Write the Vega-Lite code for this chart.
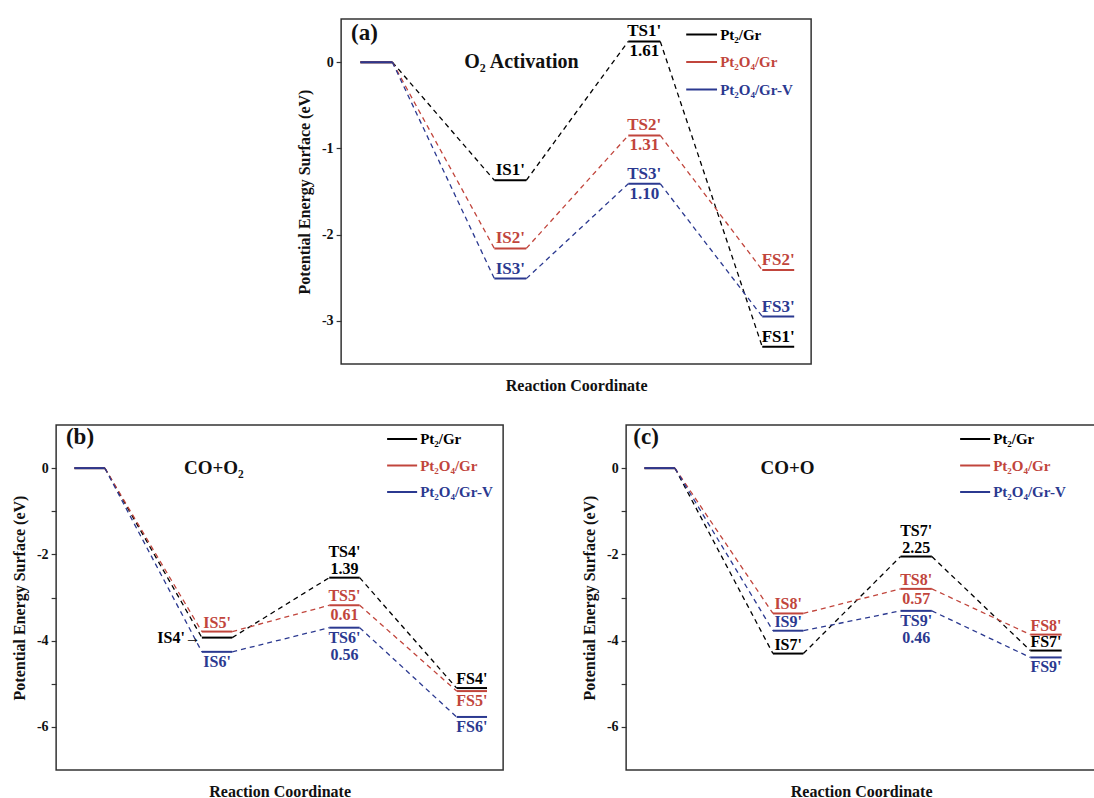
{
 "$schema": "https://vega.github.io/schema/vega-lite/v6.json",
 "padding": {"left": 10, "top": 17, "right": 0, "bottom": 0},
 "background": "white",
 "datasets": {
  "levels": [
   {"panel":"a","series":"Pt₂/Gr","step":0,"xs":0.41,"xe":1.09,"e":0},
   {"panel":"a","series":"Pt₂/Gr","step":1,"xs":3.26,"xe":3.94,"e":-1.37},
   {"panel":"a","series":"Pt₂/Gr","step":2,"xs":6.11,"xe":6.79,"e":0.24},
   {"panel":"a","series":"Pt₂/Gr","step":3,"xs":8.96,"xe":9.64,"e":-3.30},
   {"panel":"a","series":"Pt₂O₄/Gr","step":0,"xs":0.41,"xe":1.09,"e":0},
   {"panel":"a","series":"Pt₂O₄/Gr","step":1,"xs":3.26,"xe":3.94,"e":-2.16},
   {"panel":"a","series":"Pt₂O₄/Gr","step":2,"xs":6.11,"xe":6.79,"e":-0.85},
   {"panel":"a","series":"Pt₂O₄/Gr","step":3,"xs":8.96,"xe":9.64,"e":-2.41},
   {"panel":"a","series":"Pt₂O₄/Gr-V","step":0,"xs":0.41,"xe":1.09,"e":0},
   {"panel":"a","series":"Pt₂O₄/Gr-V","step":1,"xs":3.26,"xe":3.94,"e":-2.51},
   {"panel":"a","series":"Pt₂O₄/Gr-V","step":2,"xs":6.11,"xe":6.79,"e":-1.41},
   {"panel":"a","series":"Pt₂O₄/Gr-V","step":3,"xs":8.96,"xe":9.64,"e":-2.95},
   {"panel":"b","series":"Pt₂/Gr","step":0,"xs":0.41,"xe":1.09,"e":0},
   {"panel":"b","series":"Pt₂/Gr","step":1,"xs":3.26,"xe":3.94,"e":-3.93},
   {"panel":"b","series":"Pt₂/Gr","step":2,"xs":6.11,"xe":6.79,"e":-2.54},
   {"panel":"b","series":"Pt₂/Gr","step":3,"xs":8.96,"xe":9.64,"e":-5.10},
   {"panel":"b","series":"Pt₂O₄/Gr","step":0,"xs":0.41,"xe":1.09,"e":0},
   {"panel":"b","series":"Pt₂O₄/Gr","step":1,"xs":3.26,"xe":3.94,"e":-3.79},
   {"panel":"b","series":"Pt₂O₄/Gr","step":2,"xs":6.11,"xe":6.79,"e":-3.18},
   {"panel":"b","series":"Pt₂O₄/Gr","step":3,"xs":8.96,"xe":9.64,"e":-5.17},
   {"panel":"b","series":"Pt₂O₄/Gr-V","step":0,"xs":0.41,"xe":1.09,"e":0},
   {"panel":"b","series":"Pt₂O₄/Gr-V","step":1,"xs":3.26,"xe":3.94,"e":-4.26},
   {"panel":"b","series":"Pt₂O₄/Gr-V","step":2,"xs":6.11,"xe":6.79,"e":-3.70},
   {"panel":"b","series":"Pt₂O₄/Gr-V","step":3,"xs":8.96,"xe":9.64,"e":-5.77},
   {"panel":"c","series":"Pt₂/Gr","step":0,"xs":0.41,"xe":1.09,"e":0},
   {"panel":"c","series":"Pt₂/Gr","step":1,"xs":3.28,"xe":3.96,"e":-4.30},
   {"panel":"c","series":"Pt₂/Gr","step":2,"xs":6.13,"xe":6.83,"e":-2.05},
   {"panel":"c","series":"Pt₂/Gr","step":3,"xs":9.03,"xe":9.73,"e":-4.23},
   {"panel":"c","series":"Pt₂O₄/Gr","step":0,"xs":0.41,"xe":1.09,"e":0},
   {"panel":"c","series":"Pt₂O₄/Gr","step":1,"xs":3.28,"xe":3.96,"e":-3.37},
   {"panel":"c","series":"Pt₂O₄/Gr","step":2,"xs":6.13,"xe":6.83,"e":-2.80},
   {"panel":"c","series":"Pt₂O₄/Gr","step":3,"xs":9.03,"xe":9.73,"e":-3.86},
   {"panel":"c","series":"Pt₂O₄/Gr-V","step":0,"xs":0.41,"xe":1.09,"e":0},
   {"panel":"c","series":"Pt₂O₄/Gr-V","step":1,"xs":3.28,"xe":3.96,"e":-3.77},
   {"panel":"c","series":"Pt₂O₄/Gr-V","step":2,"xs":6.13,"xe":6.83,"e":-3.31},
   {"panel":"c","series":"Pt₂O₄/Gr-V","step":3,"xs":9.03,"xe":9.73,"e":-4.39}
  ],
  "labels": [
   {"panel":"a","series":"Pt₂/Gr","x":3.6,"e":-1.37,"text":"IS1'","pos":"above"},
   {"panel":"a","series":"Pt₂O₄/Gr","x":3.6,"e":-2.16,"text":"IS2'","pos":"above"},
   {"panel":"a","series":"Pt₂O₄/Gr-V","x":3.6,"e":-2.51,"text":"IS3'","pos":"above"},
   {"panel":"a","series":"Pt₂/Gr","x":6.45,"e":0.24,"text":"TS1'","pos":"above"},
   {"panel":"a","series":"Pt₂/Gr","x":6.45,"e":0.24,"text":"1.61","pos":"below"},
   {"panel":"a","series":"Pt₂O₄/Gr","x":6.45,"e":-0.85,"text":"TS2'","pos":"above"},
   {"panel":"a","series":"Pt₂O₄/Gr","x":6.45,"e":-0.85,"text":"1.31","pos":"below"},
   {"panel":"a","series":"Pt₂O₄/Gr-V","x":6.45,"e":-1.41,"text":"TS3'","pos":"above"},
   {"panel":"a","series":"Pt₂O₄/Gr-V","x":6.45,"e":-1.41,"text":"1.10","pos":"below"},
   {"panel":"a","series":"Pt₂/Gr","x":9.3,"e":-3.30,"text":"FS1'","pos":"above"},
   {"panel":"a","series":"Pt₂O₄/Gr","x":9.3,"e":-2.41,"text":"FS2'","pos":"above"},
   {"panel":"a","series":"Pt₂O₄/Gr-V","x":9.3,"e":-2.95,"text":"FS3'","pos":"above"},
   {"panel":"b","series":"Pt₂O₄/Gr","x":3.6,"e":-3.79,"text":"IS5'","pos":"above"},
   {"panel":"b","series":"Pt₂/Gr","x":3.26,"e":-3.93,"text":"IS4'→","pos":"left"},
   {"panel":"b","series":"Pt₂O₄/Gr-V","x":3.6,"e":-4.26,"text":"IS6'","pos":"below"},
   {"panel":"b","series":"Pt₂/Gr","x":6.45,"e":-2.54,"text":"TS4'","pos":"above2"},
   {"panel":"b","series":"Pt₂/Gr","x":6.45,"e":-2.54,"text":"1.39","pos":"above"},
   {"panel":"b","series":"Pt₂O₄/Gr","x":6.45,"e":-3.18,"text":"TS5'","pos":"above"},
   {"panel":"b","series":"Pt₂O₄/Gr","x":6.45,"e":-3.18,"text":"0.61","pos":"below"},
   {"panel":"b","series":"Pt₂O₄/Gr-V","x":6.45,"e":-3.70,"text":"TS6'","pos":"below"},
   {"panel":"b","series":"Pt₂O₄/Gr-V","x":6.45,"e":-3.70,"text":"0.56","pos":"below2"},
   {"panel":"b","series":"Pt₂/Gr","x":9.3,"e":-5.10,"text":"FS4'","pos":"above"},
   {"panel":"b","series":"Pt₂O₄/Gr","x":9.3,"e":-5.17,"text":"FS5'","pos":"below"},
   {"panel":"b","series":"Pt₂O₄/Gr-V","x":9.3,"e":-5.77,"text":"FS6'","pos":"below"},
   {"panel":"c","series":"Pt₂O₄/Gr","x":3.62,"e":-3.37,"text":"IS8'","pos":"above"},
   {"panel":"c","series":"Pt₂O₄/Gr-V","x":3.62,"e":-3.77,"text":"IS9'","pos":"above"},
   {"panel":"c","series":"Pt₂/Gr","x":3.62,"e":-4.30,"text":"IS7'","pos":"above"},
   {"panel":"c","series":"Pt₂/Gr","x":6.48,"e":-2.05,"text":"TS7'","pos":"above2"},
   {"panel":"c","series":"Pt₂/Gr","x":6.48,"e":-2.05,"text":"2.25","pos":"above"},
   {"panel":"c","series":"Pt₂O₄/Gr","x":6.48,"e":-2.80,"text":"TS8'","pos":"above"},
   {"panel":"c","series":"Pt₂O₄/Gr","x":6.48,"e":-2.80,"text":"0.57","pos":"below"},
   {"panel":"c","series":"Pt₂O₄/Gr-V","x":6.48,"e":-3.31,"text":"TS9'","pos":"below"},
   {"panel":"c","series":"Pt₂O₄/Gr-V","x":6.48,"e":-3.31,"text":"0.46","pos":"below2"},
   {"panel":"c","series":"Pt₂O₄/Gr","x":9.38,"e":-3.86,"text":"FS8'","pos":"above"},
   {"panel":"c","series":"Pt₂/Gr","x":9.38,"e":-4.23,"text":"FS7'","pos":"above"},
   {"panel":"c","series":"Pt₂O₄/Gr-V","x":9.38,"e":-4.39,"text":"FS9'","pos":"below"}
  ],
  "notes": [
   {"panel":"a","x":0.21,"e":0.34,"text":"(a)","kind":"tag"},
   {"panel":"a","x":2.62,"e":0.0,"text":"O₂ Activation","kind":"name"},
   {"panel":"b","x":0.22,"e":0.72,"text":"(b)","kind":"tag"},
   {"panel":"b","x":2.86,"e":0.0,"text":"CO+O₂","kind":"name"},
   {"panel":"c","x":0.16,"e":0.72,"text":"(c)","kind":"tag"},
   {"panel":"c","x":3.0,"e":0.0,"text":"CO+O","kind":"name"}
  ]
 },
 "spacing": 28,
 "center": true,
 "resolve": {"scale": {"color": "independent"}, "legend": {"color": "independent"}},
 "vconcat": [
  {
   "width": 470, "height": 345,
   "layer": [
    {"data": {"name": "levels"}, "transform": [{"filter": "datum.panel == 'a'"}],
     "mark": {"type": "rule", "strokeWidth": 2},
     "encoding": {
      "x": {"field": "xs", "type": "quantitative", "scale": {"domain": [0, 10], "nice": false, "zero": false}, "axis": {"title": "Reaction Coordinate", "ticks": false, "labels": false, "domain": false, "grid": false, "titlePadding": 13}},
      "x2": {"field": "xe"},
      "y": {"field": "e", "type": "quantitative", "scale": {"domain": [-3.5, 0.5], "nice": false, "zero": false}, "axis": {"title": "Potential Energy Surface (eV)", "values": [-3, -2, -1, 0], "labelExpr": "toString(datum.value)", "titlePadding": 9, "labelPadding": 3}},
      "color": {"field": "series", "type": "nominal", "scale": {"domain": ["Pt₂/Gr", "Pt₂O₄/Gr", "Pt₂O₄/Gr-V"], "range": ["#000000", "#c1453c", "#2b3990"]},
       "legend": {"orient": "none", "legendX": 344, "legendY": -1, "title": null, "symbolType": "stroke", "symbolSize": 950, "symbolStrokeWidth": 2, "symbolDash": [], "labelFontSize": 15, "labelFont": "Liberation Serif", "labelFontWeight": "bold", "labelOffset": 2, "rowPadding": 2.5, "padding": 0,
        "encode": {"labels": {"update": {"fill": {"signal": "datum.value === 'Pt₂/Gr' ? '#000000' : (datum.value === 'Pt₂O₄/Gr' ? '#c1453c' : '#2b3990')"}}}}}}
     }},
    {"data": {"name": "levels"}, "transform": [{"filter": "datum.panel == 'a'"}, {"window": [{"op": "lead", "field": "e", "as": "ne"}, {"op": "lead", "field": "xs", "as": "nxs"}], "groupby": ["series"], "sort": [{"field": "step"}]}, {"filter": "datum.ne != null"}],
     "mark": {"type": "rule", "strokeWidth": 1.3, "strokeDash": [5, 4]},
     "encoding": {"x": {"field": "xe", "type": "quantitative"}, "x2": {"field": "nxs"}, "y": {"field": "e", "type": "quantitative"}, "y2": {"field": "ne"}, "color": {"field": "series", "type": "nominal"}}},
    {"data": {"name": "labels"}, "transform": [{"filter": "datum.panel == 'a' && datum.pos == 'above'"}],
     "mark": {"type": "text", "fontSize": 17, "baseline": "bottom", "dy": -1},
     "encoding": {"x": {"field": "x", "type": "quantitative"}, "y": {"field": "e", "type": "quantitative"}, "text": {"field": "text"}, "color": {"field": "series", "type": "nominal"}}},
    {"data": {"name": "labels"}, "transform": [{"filter": "datum.panel == 'a' && datum.pos == 'below'"}],
     "mark": {"type": "text", "fontSize": 17, "baseline": "top", "dy": 2},
     "encoding": {"x": {"field": "x", "type": "quantitative"}, "y": {"field": "e", "type": "quantitative"}, "text": {"field": "text"}, "color": {"field": "series", "type": "nominal"}}},
    {"data": {"name": "notes"}, "transform": [{"filter": "datum.panel == 'a'"}],
     "mark": {"type": "text", "align": "left", "baseline": "middle", "color": "#111"},
     "encoding": {"x": {"field": "x", "type": "quantitative"}, "y": {"field": "e", "type": "quantitative"}, "text": {"field": "text"}, "size": {"condition": {"test": "datum.kind == 'tag'", "value": 23}, "value": 20}}}
   ]
  },
  {
   "spacing": 76,
   "resolve": {"scale": {"color": "independent"}, "legend": {"color": "independent"}},
   "hconcat": [
    {
     "width": 447, "height": 345,
     "layer": [
      {"data": {"name": "levels"}, "transform": [{"filter": "datum.panel == 'b'"}],
       "mark": {"type": "rule", "strokeWidth": 2},
       "encoding": {
        "x": {"field": "xs", "type": "quantitative", "scale": {"domain": [0, 10], "nice": false, "zero": false}, "axis": {"title": "Reaction Coordinate", "ticks": false, "labels": false, "domain": false, "grid": false, "titlePadding": 13}},
        "x2": {"field": "xe"},
        "y": {"field": "e", "type": "quantitative", "scale": {"domain": [-7, 1], "nice": false, "zero": false}, "axis": {"title": "Potential Energy Surface (eV)", "values": [-6, -5, -4, -3, -2, -1, 0], "labelExpr": "datum.value % 2 == 0 ? toString(datum.value) : ''", "titlePadding": 9, "labelPadding": 3}},
        "color": {"field": "series", "type": "nominal", "scale": {"domain": ["Pt₂/Gr", "Pt₂O₄/Gr", "Pt₂O₄/Gr-V"], "range": ["#000000", "#c1453c", "#2b3990"]},
         "legend": {"orient": "none", "legendX": 330, "legendY": -2, "title": null, "symbolType": "stroke", "symbolSize": 900, "symbolStrokeWidth": 2, "symbolDash": [], "labelFontSize": 15, "labelFont": "Liberation Serif", "labelFontWeight": "bold", "labelOffset": 2, "rowPadding": 2.5, "padding": 0,
          "encode": {"labels": {"update": {"fill": {"signal": "datum.value === 'Pt₂/Gr' ? '#000000' : (datum.value === 'Pt₂O₄/Gr' ? '#c1453c' : '#2b3990')"}}}}}}
       }},
      {"data": {"name": "levels"}, "transform": [{"filter": "datum.panel == 'b'"}, {"window": [{"op": "lead", "field": "e", "as": "ne"}, {"op": "lead", "field": "xs", "as": "nxs"}], "groupby": ["series"], "sort": [{"field": "step"}]}, {"filter": "datum.ne != null"}],
       "mark": {"type": "rule", "strokeWidth": 1.3, "strokeDash": [5, 4]},
       "encoding": {"x": {"field": "xe", "type": "quantitative"}, "x2": {"field": "nxs"}, "y": {"field": "e", "type": "quantitative"}, "y2": {"field": "ne"}, "color": {"field": "series", "type": "nominal"}}},
      {"data": {"name": "labels"}, "transform": [{"filter": "datum.panel == 'b' && datum.pos == 'above'"}],
       "mark": {"type": "text", "fontSize": 16, "baseline": "bottom", "dy": -1},
       "encoding": {"x": {"field": "x", "type": "quantitative"}, "y": {"field": "e", "type": "quantitative"}, "text": {"field": "text"}, "color": {"field": "series", "type": "nominal"}}},
      {"data": {"name": "labels"}, "transform": [{"filter": "datum.panel == 'b' && datum.pos == 'above2'"}],
       "mark": {"type": "text", "fontSize": 16, "baseline": "bottom", "dy": -18},
       "encoding": {"x": {"field": "x", "type": "quantitative"}, "y": {"field": "e", "type": "quantitative"}, "text": {"field": "text"}, "color": {"field": "series", "type": "nominal"}}},
      {"data": {"name": "labels"}, "transform": [{"filter": "datum.panel == 'b' && datum.pos == 'below'"}],
       "mark": {"type": "text", "fontSize": 16, "baseline": "top", "dy": 2},
       "encoding": {"x": {"field": "x", "type": "quantitative"}, "y": {"field": "e", "type": "quantitative"}, "text": {"field": "text"}, "color": {"field": "series", "type": "nominal"}}},
      {"data": {"name": "labels"}, "transform": [{"filter": "datum.panel == 'b' && datum.pos == 'below2'"}],
       "mark": {"type": "text", "fontSize": 16, "baseline": "top", "dy": 19},
       "encoding": {"x": {"field": "x", "type": "quantitative"}, "y": {"field": "e", "type": "quantitative"}, "text": {"field": "text"}, "color": {"field": "series", "type": "nominal"}}},
      {"data": {"name": "labels"}, "transform": [{"filter": "datum.panel == 'b' && datum.pos == 'left'"}],
       "mark": {"type": "text", "fontSize": 16, "align": "right", "baseline": "middle", "dx": -1},
       "encoding": {"x": {"field": "x", "type": "quantitative"}, "y": {"field": "e", "type": "quantitative"}, "text": {"field": "text"}, "color": {"field": "series", "type": "nominal"}}},
      {"data": {"name": "notes"}, "transform": [{"filter": "datum.panel == 'b'"}],
       "mark": {"type": "text", "align": "left", "baseline": "middle", "color": "#111"},
       "encoding": {"x": {"field": "x", "type": "quantitative"}, "y": {"field": "e", "type": "quantitative"}, "text": {"field": "text"}, "size": {"condition": {"test": "datum.kind == 'tag'", "value": 23}, "value": 19}}}
     ]
    },
    {
     "width": 470, "height": 345,
     "layer": [
      {"data": {"name": "levels"}, "transform": [{"filter": "datum.panel == 'c'"}],
       "mark": {"type": "rule", "strokeWidth": 2},
       "encoding": {
        "x": {"field": "xs", "type": "quantitative", "scale": {"domain": [0, 10.5], "nice": false, "zero": false}, "axis": {"title": "Reaction Coordinate", "ticks": false, "labels": false, "domain": false, "grid": false, "titlePadding": 13}},
        "x2": {"field": "xe"},
        "y": {"field": "e", "type": "quantitative", "scale": {"domain": [-7, 1], "nice": false, "zero": false}, "axis": {"title": "Potential Energy Surface (eV)", "values": [-6, -5, -4, -3, -2, -1, 0], "labelExpr": "datum.value % 2 == 0 ? toString(datum.value) : ''", "titlePadding": 9, "labelPadding": 3}},
        "color": {"field": "series", "type": "nominal", "scale": {"domain": ["Pt₂/Gr", "Pt₂O₄/Gr", "Pt₂O₄/Gr-V"], "range": ["#000000", "#c1453c", "#2b3990"]},
         "legend": {"orient": "none", "legendX": 333, "legendY": -2, "title": null, "symbolType": "stroke", "symbolSize": 900, "symbolStrokeWidth": 2, "symbolDash": [], "labelFontSize": 15, "labelFont": "Liberation Serif", "labelFontWeight": "bold", "labelOffset": 2, "rowPadding": 2.5, "padding": 0,
          "encode": {"labels": {"update": {"fill": {"signal": "datum.value === 'Pt₂/Gr' ? '#000000' : (datum.value === 'Pt₂O₄/Gr' ? '#c1453c' : '#2b3990')"}}}}}}
       }},
      {"data": {"name": "levels"}, "transform": [{"filter": "datum.panel == 'c'"}, {"window": [{"op": "lead", "field": "e", "as": "ne"}, {"op": "lead", "field": "xs", "as": "nxs"}], "groupby": ["series"], "sort": [{"field": "step"}]}, {"filter": "datum.ne != null"}],
       "mark": {"type": "rule", "strokeWidth": 1.3, "strokeDash": [5, 4]},
       "encoding": {"x": {"field": "xe", "type": "quantitative"}, "x2": {"field": "nxs"}, "y": {"field": "e", "type": "quantitative"}, "y2": {"field": "ne"}, "color": {"field": "series", "type": "nominal"}}},
      {"data": {"name": "labels"}, "transform": [{"filter": "datum.panel == 'c' && datum.pos == 'above'"}],
       "mark": {"type": "text", "fontSize": 16, "baseline": "bottom", "dy": -1},
       "encoding": {"x": {"field": "x", "type": "quantitative"}, "y": {"field": "e", "type": "quantitative"}, "text": {"field": "text"}, "color": {"field": "series", "type": "nominal"}}},
      {"data": {"name": "labels"}, "transform": [{"filter": "datum.panel == 'c' && datum.pos == 'above2'"}],
       "mark": {"type": "text", "fontSize": 16, "baseline": "bottom", "dy": -18},
       "encoding": {"x": {"field": "x", "type": "quantitative"}, "y": {"field": "e", "type": "quantitative"}, "text": {"field": "text"}, "color": {"field": "series", "type": "nominal"}}},
      {"data": {"name": "labels"}, "transform": [{"filter": "datum.panel == 'c' && datum.pos == 'below'"}],
       "mark": {"type": "text", "fontSize": 16, "baseline": "top", "dy": 2},
       "encoding": {"x": {"field": "x", "type": "quantitative"}, "y": {"field": "e", "type": "quantitative"}, "text": {"field": "text"}, "color": {"field": "series", "type": "nominal"}}},
      {"data": {"name": "labels"}, "transform": [{"filter": "datum.panel == 'c' && datum.pos == 'below2'"}],
       "mark": {"type": "text", "fontSize": 16, "baseline": "top", "dy": 19},
       "encoding": {"x": {"field": "x", "type": "quantitative"}, "y": {"field": "e", "type": "quantitative"}, "text": {"field": "text"}, "color": {"field": "series", "type": "nominal"}}},
      {"data": {"name": "notes"}, "transform": [{"filter": "datum.panel == 'c'"}],
       "mark": {"type": "text", "align": "left", "baseline": "middle", "color": "#111"},
       "encoding": {"x": {"field": "x", "type": "quantitative"}, "y": {"field": "e", "type": "quantitative"}, "text": {"field": "text"}, "size": {"condition": {"test": "datum.kind == 'tag'", "value": 23}, "value": 19}}}
     ]
    }
   ]
  }
 ],
 "config": {
  "font": "Liberation Serif",
  "view": {"stroke": "#333333", "strokeWidth": 1.5},
  "axis": {"labelFont": "Liberation Serif", "labelFontWeight": "bold", "labelFontSize": 14, "labelColor": "#111111", "titleFont": "Liberation Serif", "titleFontWeight": "bold", "titleFontSize": 16, "titleColor": "#111111", "grid": false, "domain": false, "tickColor": "#333333", "tickSize": 5, "tickWidth": 1.2},
  "text": {"font": "Liberation Serif", "fontWeight": "bold"}
 }
}
